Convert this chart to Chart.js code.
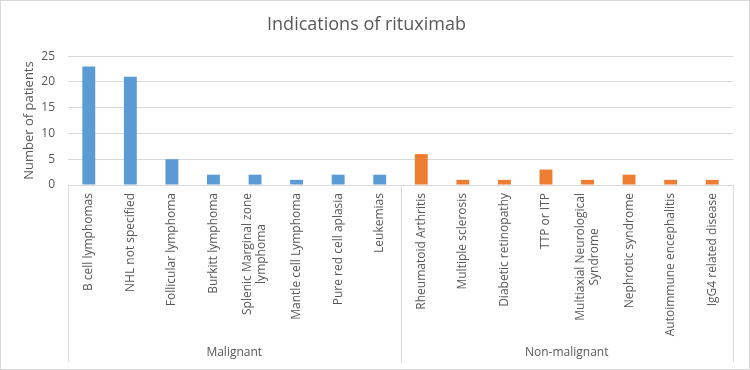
<!DOCTYPE html>
<html>
<head>
<meta charset="utf-8">
<script src="https://cdn.jsdelivr.net/npm/chart.js@4"></script>
<style>
  html, body { margin: 0; padding: 0; background: #fff; }
  #wrap { width: 750px; height: 370px; position: relative; }
</style>
</head>
<body>
<div id="wrap"><canvas id="indicationsChart"></canvas></div>
<script>
const malignantLabels = [
  "B cell lymphomas",
  "NHL not specified",
  "Follicular lymphoma",
  "Burkitt lymphoma",
  ["Splenic Marginal zone", "lymphoma"],
  "Mantle cell Lymphoma",
  "Pure red cell aplasia",
  "Leukemias",
];
const malignantValues = [23, 21, 5, 2, 2, 1, 2, 2];

const nonMalignantLabels = [
  "Rheumatoid Arthritis",
  "Multiple sclerosis",
  "Diabetic retinopathy",
  "TTP or ITP",
  ["Multiaxial Neurological", "Syndrome"],
  "Nephrotic syndrome",
  "Autoimmune encephalitis",
  "IgG4 related disease",
];
const nonMalignantValues = [6, 1, 1, 3, 1, 2, 1, 1];

const groupNames = ["Malignant", "Non-malignant"];
const yMin = 0;
const yMax = 25;
const yStep = 5;

const BLUE = "#5b9bd5";
const ORANGE = "#ed7d31";
const GRID = "#d9d9d9";
const TEXT = "#595959";
const FONT = "'Open Sans', sans-serif";

document.addEventListener("DOMContentLoaded", () => {
  initChart();
});

// category labels rotated, multi-line ones centred on each other like Excel does
function drawCategoryLabels(chart) {
  const ctx = chart.ctx;
  const x = chart.scales.x;
  const lineH = 14;
  ctx.save();
  ctx.fillStyle = TEXT;
  ctx.font = "12px " + FONT;
  ctx.textBaseline = "middle";
  chart.data.labels.forEach((label, i) => {
    const lines = Array.isArray(label) ? label : [label];
    const maxW = Math.max(...lines.map((l) => ctx.measureText(l).width));
    ctx.save();
    ctx.translate(x.getPixelForValue(i), x.top + 8);
    ctx.rotate(-Math.PI / 2);
    ctx.textAlign = "center";
    lines.forEach((line, j) => {
      ctx.fillText(line, -maxW / 2, (j - (lines.length - 1) / 2) * lineH);
    });
    ctx.restore();
  });
  ctx.restore();
}

// second category row (group names + separators) and the outer frame
const groupAxisPlugin = {
  id: "groupAxis",
  afterDraw(chart) {
    const ctx = chart.ctx;
    const x = chart.scales.x;
    const top = x.top;
    const bottom = 362;
    const split = (x.getPixelForValue(malignantLabels.length - 1) + x.getPixelForValue(malignantLabels.length)) / 2;
    const bounds = [x.left, split, x.right];

    drawCategoryLabels(chart);

    ctx.save();
    ctx.strokeStyle = GRID;
    ctx.lineWidth = 1;
    bounds.forEach((bx) => {
      const px = Math.round(bx) + 0.5;
      ctx.beginPath();
      ctx.moveTo(px, top);
      ctx.lineTo(px, bottom);
      ctx.stroke();
    });

    ctx.fillStyle = TEXT;
    ctx.font = "12px " + FONT;
    ctx.textAlign = "center";
    ctx.textBaseline = "middle";
    groupNames.forEach((name, i) => {
      ctx.fillText(name, (bounds[i] + bounds[i + 1]) / 2, 353);
    });

    ctx.strokeStyle = GRID;
    ctx.strokeRect(0.5, 0.5, chart.width - 1, chart.height - 1);
    ctx.restore();
  },
};

function initChart() {
  const ctx = document.getElementById("indicationsChart").getContext("2d");
  const labels = malignantLabels.concat(nonMalignantLabels);
  const values = malignantValues.concat(nonMalignantValues);
  const colors = malignantValues.map(() => BLUE).concat(nonMalignantValues.map(() => ORANGE));

  new Chart(ctx, {
    type: "bar",
    data: {
      labels: labels,
      datasets: [
        {
          label: "Number of patients",
          data: values,
          backgroundColor: colors,
          borderWidth: 0,
          categoryPercentage: 1,
          barPercentage: 0.31,
        },
      ],
    },
    options: {
      responsive: true,
      maintainAspectRatio: false,
      animation: false,
      layout: { padding: { left: 0, right: 17, top: 0, bottom: 0 } },
      plugins: {
        legend: { display: false },
        tooltip: { enabled: false },
        title: {
          display: true,
          text: "Indications of rituximab",
          color: TEXT,
          font: { family: FONT, size: 18, weight: "normal" },
          padding: { top: 14, bottom: 20.5 },
        },
      },
      scales: {
        x: {
          grid: { display: false, drawTicks: false },
          border: { display: true, color: GRID },
          ticks: { display: false },
          afterFit(scale) {
            scale.height = 185;
          },
        },
        y: {
          min: yMin,
          max: yMax,
          grid: { color: GRID, drawTicks: false },
          border: { display: false },
          ticks: {
            stepSize: yStep,
            color: TEXT,
            font: { family: FONT, size: 12 },
            padding: 13,
          },
          title: {
            display: true,
            text: "Number of patients",
            color: TEXT,
            font: { family: FONT, size: 13 },
            padding: { top: 21, bottom: 0 },
          },
          afterFit(scale) {
            scale.width = 68;
          },
        },
      },
    },
    plugins: [groupAxisPlugin],
  });
}
</script>
</body>
</html>
